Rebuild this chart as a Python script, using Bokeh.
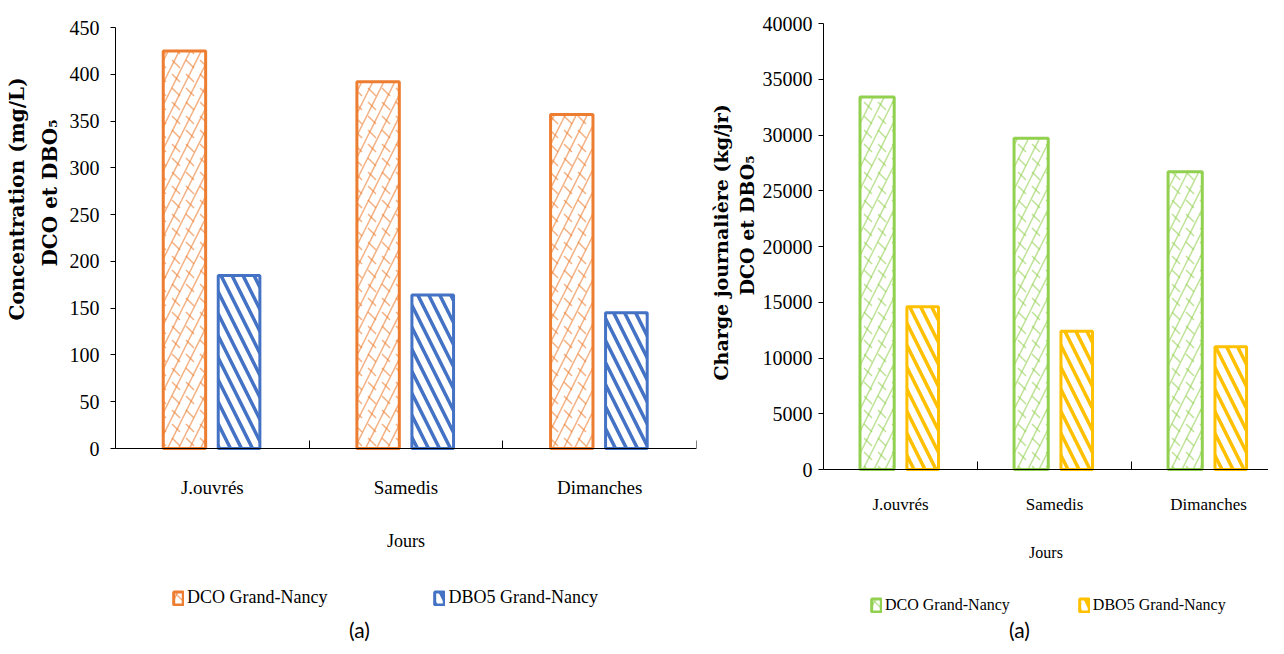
from bokeh.plotting import figure
from bokeh.models import Range1d, FixedTicker, Legend, LegendItem, Title, Label, NumeralTickFormatter
from bokeh.layouts import row
from bokeh.embed import file_html
from bokeh.resources import INLINE

# ---------------- data ----------------
days = ["J.ouvrés", "Samedis", "Dimanches"]
series_names = ["DCO Grand-Nancy", "DBO5 Grand-Nancy"]
conc_dco = [425, 392, 357]
conc_dbo = [185, 164, 145]
charge_dco = [33400, 29700, 26700]
charge_dbo = [14600, 12400, 11000]
conc_ticks = [0, 50, 100, 150, 200, 250, 300, 350, 400, 450]
charge_ticks = [0, 5000, 10000, 15000, 20000, 25000, 30000, 35000, 40000]
x_title = "Jours"
conc_title = ["Concentration  (mg/L)", "DCO et DBO₅"]
charge_title = ["Charge journalière  (kg/jr)", "DCO et DBO₅"]
caption = "(a)"

SERIF = "Liberation Serif"
LABEL_FONT = "DejaVu Serif"

FIG_H = 646
FRAME_TOP = 23


def make_chart(cfg, dco, dbo, y_ticks, ytitle):
    # pixel rows of the value axis (0 and top tick) -> y range of a frame
    # that reaches the bottom of the canvas, the x axis being fixed at y = 0
    y_top_val = y_ticks[-1]
    px_per_unit = (cfg["y0_px"] - cfg["ytop_px"]) / y_top_val
    y_start = -(FIG_H - cfg["y0_px"]) / px_per_unit
    y_end = y_top_val + (cfg["ytop_px"] - FRAME_TOP) / px_per_unit

    p = figure(width=cfg["w"], height=FIG_H,
               x_range=Range1d(0, cfg["x_end"]), y_range=Range1d(y_start, y_end),
               output_backend="svg", toolbar_location=None,
               min_border_left=cfg["bl"], min_border_right=cfg["br"],
               min_border_top=FRAME_TOP, min_border_bottom=0)
    p.outline_line_color = None
    p.grid.visible = False
    p.background_fill_color = "white"

    centers = [i + 0.5 for i in range(len(days))]
    x_dco = [c + cfg["off_dco"] for c in centers]
    x_dbo = [c + cfg["off_dbo"] for c in centers]

    ra = p.vbar(x=x_dco, top=dco, width=cfg["w_dco"], bottom=0,
                fill_color="white", line_color=None,
                hatch_pattern="right_diagonal_line", hatch_color=cfg["c_dco"],
                hatch_alpha=0.6, hatch_scale=22, hatch_weight=1.5)
    rb = p.vbar(x=x_dco, top=dco, width=cfg["w_dco"], bottom=0,
                fill_alpha=0, line_color=cfg["c_dco"], line_width=3,
                hatch_pattern="left_diagonal_dash", hatch_color=cfg["c_dco"],
                hatch_alpha=0.6, hatch_scale=14, hatch_weight=1.5)
    rc = p.vbar(x=x_dbo, top=dbo, width=cfg["w_dbo"], bottom=0,
                fill_color="white", line_color=cfg["c_dbo"], line_width=3,
                hatch_pattern="left_diagonal_line", hatch_color=cfg["c_dbo"],
                hatch_alpha=1.0, hatch_scale=22, hatch_weight=3.5)

    xa = p.xaxis[0]
    xa.fixed_location = 0
    xa.ticker = FixedTicker(ticks=centers, minor_ticks=[0, 1, 2, 3])
    xa.major_label_overrides = {c: d for c, d in zip(centers, days)}
    xa.major_tick_line_color = None
    xa.major_tick_in = 0
    xa.major_tick_out = 0
    xa.minor_tick_in = 8
    xa.minor_tick_out = 0
    xa.minor_tick_line_color = "black"
    xa.axis_line_color = "black"
    xa.major_label_text_font = SERIF
    xa.major_label_text_font_size = cfg["cat_size"]
    xa.major_label_text_color = "black"
    xa.major_label_standoff = cfg["cat_standoff"]
    xa.axis_label = x_title
    xa.axis_label_text_font = SERIF
    xa.axis_label_text_font_style = "normal"
    xa.axis_label_text_font_size = cfg["xlab_size"]
    xa.axis_label_text_color = "black"
    xa.axis_label_standoff = cfg["xlab_standoff"]

    ya = p.yaxis[0]
    ya.bounds = (0, y_top_val)
    ya.ticker = FixedTicker(ticks=y_ticks)
    ya.formatter = NumeralTickFormatter(format="0")
    ya.major_tick_in = 0
    ya.major_tick_out = 5
    ya.minor_tick_line_color = None
    ya.axis_line_color = "black"
    ya.major_tick_line_color = "black"
    ya.major_label_text_font = SERIF
    ya.major_label_text_font_size = "20px"
    ya.major_label_text_color = "black"
    ya.major_label_standoff = cfg["ytick_standoff"]

    t2 = Title(text=ytitle[1], align="left", offset=cfg["t2_off"], standoff=cfg["t2_standoff"],
               text_font=LABEL_FONT, text_font_style="bold", text_font_size=cfg["t_size"],
               text_color="black")
    p.add_layout(t2, "left")
    t1 = Title(text=ytitle[0], align="left", offset=cfg["t1_off"], standoff=cfg["t1_standoff"],
               text_font=LABEL_FONT, text_font_style="bold", text_font_size=cfg["t_size"],
               text_color="black")
    p.add_layout(t1, "left")

    leg = Legend(items=[LegendItem(label=series_names[0], renderers=[ra, rb]),
                        LegendItem(label=series_names[1], renderers=[rc])],
                 orientation="horizontal", location=(cfg["leg_x"], cfg["leg_y"]),
                 padding=0, margin=0, spacing=cfg["leg_spacing"],
                 glyph_width=12, glyph_height=16, label_standoff=3,
                 border_line_color=None, background_fill_alpha=0,
                 label_text_font=SERIF, label_text_font_size=cfg["leg_size"],
                 label_text_font_style="normal",
                 label_text_color="black", label_height=20)
    p.add_layout(leg)

    cap = Label(x=cfg["cap_x"], y=cfg["cap_y"], x_units="screen", y_units="screen",
                text=caption, text_align="center", text_baseline="middle",
                text_font="Lato", text_font_size="21px", text_color="black")
    p.add_layout(cap)
    return p


left_cfg = dict(w=706, bl=106, br=10, x_end=3.0, y0_px=448, ytop_px=27,
                off_dco=-0.144, off_dbo=0.138, w_dco=0.219, w_dbo=0.215,
                c_dco="#ED7D31", c_dbo="#4472C4",
                cat_size="19px", cat_standoff=28, xlab_size="18px", xlab_standoff=30,
                ytick_standoff=11, t_size="20px",
                t1_off=326, t1_standoff=4, t2_off=380, t2_standoff=10,
                leg_x=57, leg_y=38, leg_spacing=106, leg_size="18px",
                cap_x=244, cap_y=17)

right_cfg = dict(w=562, bl=107, br=0, x_end=455 / 157.5, y0_px=469, ytop_px=23,
                 off_dco=-0.152, off_dbo=0.144, w_dco=0.222, w_dbo=0.205,
                 c_dco="#92D050", c_dbo="#FFC000",
                 cat_size="17px", cat_standoff=25, xlab_size="16px", xlab_standoff=27,
                 ytick_standoff=6, t_size="19px",
                 t1_off=266, t1_standoff=2, t2_off=351, t2_standoff=3,
                 leg_x=47, leg_y=31, leg_spacing=68, leg_size="16px",
                 cap_x=196, cap_y=17)

p_left = make_chart(left_cfg, conc_dco, conc_dbo, conc_ticks, conc_title)
p_right = make_chart(right_cfg, charge_dco, charge_dbo, charge_ticks, charge_title)

layout = row(p_left, p_right, spacing=0)
open("out.html", "w").write(file_html(layout, INLINE))
